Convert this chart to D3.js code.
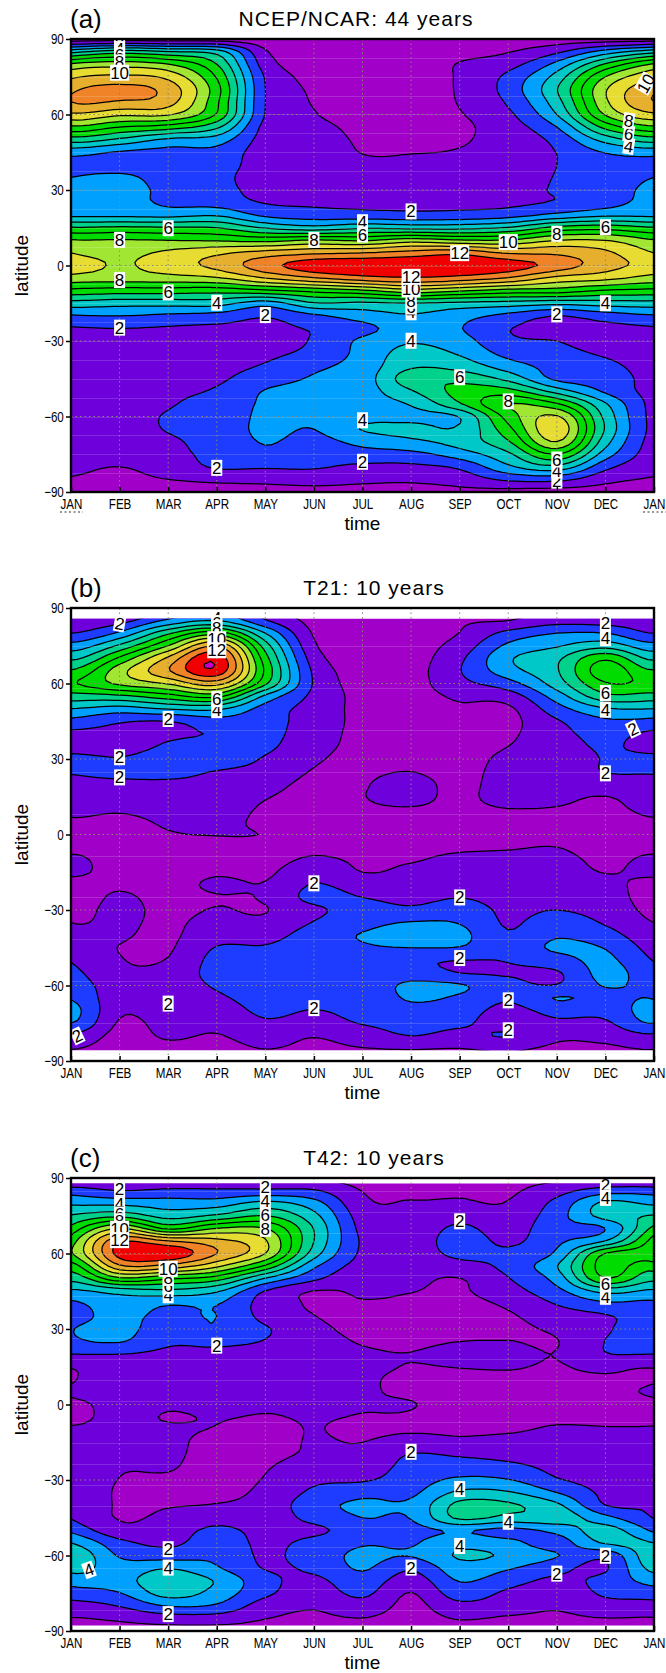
<!DOCTYPE html>
<html><head><meta charset="utf-8">
<script src="https://cdn.jsdelivr.net/npm/d3@7"></script>
<style>
html,body{margin:0;padding:0;background:#fff}
svg{display:block}
text{font-family:"Liberation Sans",sans-serif;fill:#000}
</style></head><body>
<script>
const months=["JAN","FEB","MAR","APR","MAY","JUN","JUL","AUG","SEP","OCT","NOV","DEC","JAN"];
const latTicks=[90,60,30,0,-30,-60,-90];
const lats=d3.range(90,-90.1,-5);
const levels=[1,2,3,4,5,6,7,8,9,10,11,12,13];
const colours=["#a000c8","#6e00dc","#1e3cff","#00a0ff","#00c8c8","#00d28c","#00dc00","#00dc00","#a0e632","#e6dc32","#e6af2d","#f08228","#f00000","#c800c8"];

// one column per month, Jan..Jan; each column runs 90N to 90S in 5-degree steps
const aJan=[.5,4.6,8.1,9.8,10.8,11,9.8,7.8,5.5,3.4,2.6,3,3.3,3.4,3.8,6.1,8.1,9,9.6,8.6,6.7,4.6,2.9,1.9,1.7,1.7,1.7,1.7,1.7,1.7,1.7,1.7,1.6,1.5,1.3,.9,.4];
const aFeb=[.5,5.5,8.5,10.2,11.3,10.9,9.2,7,4.8,2.9,2.6,3.2,3.5,3.5,3.8,6.2,8.1,8.7,8.9,8.5,6.5,4.4,3,2,1.7,1.7,1.7,1.7,1.75,1.75,1.8,1.7,1.6,1.4,1,.8,.5];
const aMar=[.5,5,8,9.7,10.6,10.4,9.1,6.5,3.8,2.7,2.6,2.6,2.7,2.8,3.7,6.1,8,9.2,9.5,8.6,6.5,4.4,2.8,1.9,1.8,1.8,1.8,1.85,1.9,1.95,2.05,2.05,1.85,1.7,1.4,1,.6];
const aApr=[.5,4.5,6,6.9,7.4,7.2,6.9,5.2,3.5,2.7,2.5,2.3,2.4,2.6,3.9,6,7.9,9.8,10.3,8.9,6.4,4.4,2.6,1.8,1.6,1.6,1.7,1.85,2.1,2.3,2.4,2.45,2.4,2.3,2.1,1.2,.6];
const aMay=[.5,1.1,1.5,1.9,2,2,1.95,1.7,1.6,1.5,1.5,1.5,1.6,1.95,2.8,4.9,7.7,10.4,11.6,10,6.8,3.5,2.1,1.8,1.6,1.8,2.1,2.6,3.05,3.15,3.2,3.2,3.05,2.8,2.1,1.3,.6];
const aJun=[.4,.6,.7,.8,.9,.95,1.05,1.2,1.3,1.4,1.5,1.6,1.7,1.85,2.5,4.4,8.1,10.8,12.6,10.9,7.3,4.9,2.8,2.1,2.1,2.3,2.8,3.1,3.25,3.3,3.2,3,2.7,2.4,2.1,1.4,.7];
const aJul=[.4,.5,.55,.6,.65,.7,.75,.85,.92,.98,1.15,1.3,1.5,1.8,2.4,4.85,7.9,11,12.8,11.6,7.8,4.8,3.5,2.7,3.2,3.3,3.4,3.5,3.55,3.6,3.7,4.05,3.3,2.6,1.8,1.2,.7];
const aAug=[.4,.5,.55,.6,.65,.7,.75,.8,.9,.98,1.15,1.3,1.5,1.8,2.3,4.7,8.5,11.4,12.8,11.9,8.6,5,3.9,3.5,3.9,4.4,4.85,5.6,4.9,4.1,3.7,4.3,3.8,2.7,1.8,1.15,.7];
const aSep=[.4,.7,1.05,1.1,1.1,1.05,.95,.85,.92,1.05,1.2,1.35,1.55,1.8,2.35,4.7,8.1,11.7,12.9,11.6,8.1,4.75,3.4,3.05,3.4,3.9,4.6,5.7,6.3,5.9,4.05,4.15,4.4,3.5,2.2,1.4,.8];
const aOct=[.45,.95,1.6,2.25,2.4,2.15,1.8,1.55,1.4,1.35,1.4,1.5,1.6,1.8,2.6,5.1,8.1,10.9,12.5,10.9,7.6,4.6,2.7,2.05,2.2,2.7,3.5,4.7,6.4,8,7.4,6.7,5.9,4.8,3.8,2.2,.7];
const aNov=[.5,1.8,3.3,4.4,4.95,4.6,4,3,2.3,2.02,2,2.05,2.1,2.1,3.3,6.3,9,10.8,11.6,9.7,7.5,4.3,2,1.7,2,2.3,2.6,2.8,4.6,7.1,9.1,9.7,9,7,4.7,2.3,.6];
const aDec=[.5,3.4,6.1,8,8.9,8.8,8.1,6.3,4.4,3.05,2.6,2.45,2.45,2.6,3.8,6.6,9,10.2,10.4,9.3,6.9,4.5,2.5,1.7,1.6,1.9,2.2,2.5,2.85,4.1,4.7,4.9,4.4,3.5,2.3,1.3,.6];

const bJan=[.5,1.4,2,3.4,4.8,6.1,6.9,5.6,4,2.7,1.8,1.7,2.2,2.05,1.8,1.5,1.2,.9,.7,.85,1.1,1.1,.8,.7,.8,1,1.3,1.6,1.95,2.3,2.6,2.95,3.3,3,1.8,1.05,.6];
const bFeb=[.5,1.6,3.2,5.2,7.2,8.6,8.2,5.8,3.6,2.1,1.8,1.7,2.05,2.2,1.8,1.4,1.1,.8,.7,.7,.75,.8,.9,1.1,1.2,1.15,1.1,.98,1.05,1.2,1.4,1.3,1.15,.9,.7,.6,.5];
const bMar=[2,3.2,5.8,8,10.2,10.9,9.1,6.6,4.1,2,1.9,2.1,2.4,2.3,1.8,1.5,1.3,1.1,.95,.8,.7,.7,.7,.75,.8,.85,.85,.9,1.05,1.3,1.5,1.6,1.5,1.3,1.1,.8,.6];
const bApr=[3,4,7.5,10.9,12.7,12.7,10.4,7.3,4.2,2.6,2.05,2.35,2.6,1.95,1.7,1.5,1.35,1.2,1.02,.85,.75,.9,1.15,.95,1.05,1.3,1.6,2.05,2.3,2.35,2.1,1.85,1.5,1.2,.95,.7,.5];
const bMay=[1.5,2.1,4,5.5,6.4,6.8,6.2,3.8,2.6,2.4,2.3,2.2,1.9,1.6,1.3,1.05,.9,.85,.98,.85,.75,.85,1.05,1.1,.96,1.2,1.6,2.1,2.3,2.5,2.5,2.4,2.2,1.85,1.4,1.02,.7];
const bJun=[.5,.7,.9,1.15,1.5,1.8,1.9,1.75,1.6,1.5,1.4,1.25,1.1,.95,.8,.75,.7,.65,.7,.85,1.1,1.6,2.05,2.3,1.8,2.05,2.5,2.65,2.7,2.6,2.4,2.3,1.97,1.6,1.05,.8,.6];
const bJul=[.4,.5,.55,.6,.65,.7,.7,.75,.75,.8,.8,.85,.85,.9,.95,.98,.9,.75,.7,.8,.9,1,1.5,2,2.35,2.7,3.05,2.9,2.7,2.5,2.4,2.35,2.3,2.05,1.5,.97,.7];
const bAug=[.4,.5,.55,.6,.6,.65,.65,.7,.7,.75,.75,.8,.85,1,1.25,1.2,.95,.8,.7,.8,.95,1.15,1.35,1.7,2.2,3.05,3.3,3,2.2,2.5,3.2,3.1,2.7,2.3,2,1.05,.7];
const bSep=[.7,.9,1.02,1.4,1.8,1.95,1.7,1.15,.9,.8,.75,.7,.7,.75,.8,.85,.85,.8,.8,.9,1.15,1.3,1.6,1.98,2.5,2.95,3.25,2.95,2,2,3.1,2.85,2.4,2.15,1.7,1,.7];
const bOct=[.8,1,2.3,3.2,3.85,3.6,2.6,1.5,.85,.75,.85,1,1.2,1.3,1.35,1.3,.98,.8,.75,.95,1.15,1.3,1.5,1.65,1.8,1.9,2.1,2.4,2.05,1.9,2.3,2.1,1.75,1.6,2.05,1.15,.8];
const bNov=[1,1.6,3,3.9,4.8,4.9,4.5,3.5,2.6,1.9,1.7,1.6,1.5,1.5,1.4,1.2,.95,.8,.8,1,1.2,1.3,1.5,1.8,2,2.5,2.9,3.15,2.6,1.9,2.05,3.05,2.3,1.8,1.2,.85,.6];
const bDec=[1,1.5,3,4.6,6.8,7.6,6.9,5.7,3.9,2.8,2.3,2.1,2.05,2.02,1.6,.98,.8,.7,.65,.7,.85,.98,1.2,1.4,1.6,1.9,2.4,2.95,3.2,3.3,3.05,2.7,2.3,1.85,1.3,.85,.6];

const cJan=[.8,2.5,3.8,5.1,6.3,7.5,7.9,6.5,5.3,3.8,2.8,2.6,2.95,2.8,2,1.05,.95,1.1,.85,.9,1.05,1.2,1.3,1.45,1.55,1.7,1.85,1.95,2.8,4,4.6,4.3,3.4,2.5,1.6,.95,.6];
const cFeb=[.8,2,3.7,5.7,9,11.8,12.4,10.8,7.7,4.4,3.6,3.3,3.3,3.05,2,1.7,1.5,1.3,1.2,1.1,1.1,1.1,1.1,1.05,.98,.9,.9,.95,1.3,2.3,2.9,3.4,3.6,2.95,2.05,1.15,.7];
const cMar=[.9,2.2,3.5,4.6,6.8,11,12.8,10.6,7.1,4.7,3.1,2.7,2.5,2.15,1.8,1.5,1.3,1.15,1.05,.98,1.05,1.1,1.1,1.05,.9,.8,.95,1.2,1.5,1.8,2.5,3.95,4.7,4.4,3.05,1.5,.7];
const cApr=[.9,2.2,3.5,5.2,8,10.3,11,9.2,6.4,4.1,3.05,3,2.9,2.2,1.8,1.5,1.3,1.2,1.1,1.02,.98,.85,.8,.75,.75,.8,1.05,1.6,2.2,2.5,2.8,3.1,3.9,3.6,2.85,1.5,.7];
const cMay=[.9,2.2,4.3,6,8,9.1,9,6.8,3.9,1.95,1.6,1.7,2.1,1.95,1.6,1.35,1.2,1.1,1.03,.98,.85,.8,.85,.95,1.05,1.2,1.35,1.5,1.7,1.8,1.85,1.95,2.3,2.2,1.5,1.02,.7];
const cJun=[.9,2.1,3.4,4.3,4.95,5,4.5,3.2,2.2,.97,.9,1.02,1.2,1.3,1.3,1.25,1.2,1.1,1.05,1.03,1.02,1.05,1.1,1.4,1.8,2.2,2.6,2.3,1.8,2.3,2.5,2.2,1.8,1.5,1.1,.85,.7];
const cJul=[.7,.97,1.2,1.5,1.7,1.85,1.8,1.6,1.3,1.1,.95,.85,.85,.95,1.1,1.15,1.1,1.05,1.02,.98,.85,1,1.2,1.5,1.9,2.7,3.2,3,2.5,2.9,3.2,3.1,2.6,2.2,1.6,.98,.7];
const cAug=[.7,.85,1.05,1.2,1.3,1.4,1.4,1.35,1.2,1.02,.9,.85,.8,.85,1.02,.97,.85,.92,1.02,.95,.9,1.4,2.05,2.3,2.5,2.8,3.2,3.05,2.7,2.9,3.05,2.15,1.5,.97,.75,.65,.6];
const cSep=[.7,.9,1.1,1.6,2.2,2.5,2.3,1.6,.98,.9,.8,.8,.85,1,1.3,1.02,.9,.85,.8,.75,.85,1.2,1.9,2.5,3.2,4.2,5.3,5.2,3.1,3.7,4.1,3.6,3.05,2.5,1.7,1.05,.7];
const cOct=[.7,.85,1.05,1.3,1.5,1.8,2.2,2.3,1.95,1.6,1.15,.9,.85,1.02,1.3,1.05,.9,.85,.8,.78,.9,1.3,1.7,2.3,3.05,4.1,5.15,4.7,2.7,3.3,3.85,3.1,2.4,1.8,1.4,.9,.6];
const cNov=[.8,1.6,2.3,2.6,2.7,2.8,3.2,3.95,3.4,2.7,2.05,1.5,1.15,.97,1.02,.95,.9,.85,.8,.85,1.1,1.3,1.5,1.75,2.1,3,4.2,4.6,3.3,2.6,3.05,2.3,1.8,1.4,1.1,.85,.6];
const cDec=[.8,2.5,4.2,4.4,3,4,7.05,7.5,6.9,4.3,2.8,1.9,1.85,2.02,1.95,1.2,.9,.8,.75,.85,1.05,1.2,1.35,1.5,1.65,1.8,2,3.3,4.4,4.1,2.3,1.9,2.3,2.15,1.6,.98,.6];

// contour labels: month position, latitude, text, rotation
const aLabels=[[1,88,"2"],[1,86,"4"],[1,83.6,"6"],[1,80.7,"8"],[1,76.6,"10"],[11.83,72.3,"10",-60],[11.48,47.4,"4",8],[11.48,52.4,"6",8],[11.48,57.5,"8",8],
[2,14.8,"6"],[1,10.2,"8"],[5,10.2,"8"],[6,17.2,"4"],[6,12.3,"6"],[7,21.5,"2"],[8,4.9,"12"],[9,9.3,"10"],[10,12.6,"8"],[11,15.2,"6"],
[1,-5.8,"8"],[2,-10.7,"6"],[3,-14.8,"4"],[4,-19.7,"2"],[1,-24.7,"2"],[7,-18.6,"4"],[7,-16.3,"6"],[7,-14,"8"],[7,-9.5,"10"],[7,-4.5,"12"],[11,-15,"4"],[10,-19.4,"2"],[7,-29.9,"4"],[8,-44.4,"6"],[9,-54,"8"],[6,-61.5,"4"],[6,-78,"2"],[3,-80.4,"2"],[10,-85.5,"2"],[10,-81.5,"4"],[10,-77.1,"6"]];
const bLabels=[[1,83.8,"2",10],[3,86,"4"],[3,84,"6"],[3,82,"8"],[3,77.6,"10"],[3,73.2,"12"],[3,49.4,"4"],[3,53.8,"6"],[2,45.9,"2"],[1,30.7,"2"],[1,22.7,"2"],[11,83.9,"2"],[11,78,"4"],[11,56.2,"6"],[11,49.6,"4"],[11,24.3,"2"],[11.57,41.9,"2",-25],
[5,-19.4,"2"],[8,-25,"2"],[8,-49.1,"2"],[5,-69,"2"],[2,-67.2,"2"],[9,-65.9,"2"],[9,-77.8,"2"],[.13,-80,"2",-25]];
const cLabels=[[1,85.7,"2"],[1,79.5,"4"],[1,75.5,"6"],[1,72.8,"8"],[1,69.8,"10"],[1,65.3,"12"],[2,43.4,"4"],[2,47,"6"],[2,50.3,"8"],[2,53.9,"10"],[4,86.4,"2"],[4,80.8,"4"],[4,75.1,"6"],[4,69.8,"8"],[3,23.4,"2"],[8,72.8,"2"],[11,87.4,"2"],[11,82.1,"4"],[11,42.8,"4"],[11,47.7,"6"],
[7,-18.8,"2"],[8,-33.6,"4"],[9,-46.6,"4"],[8,-56.2,"4"],[2,-57.5,"2"],[2,-64.8,"4"],[2,-83.3,"2"],[.37,-65.7,"4",-20],[7,-64.8,"2"],[10,-67.2,"2"],[11,-60.1,"2"]];

const panels=[
 {tag:"(a)",title:"NCEP/NCAR: 44 years",titleX:356,top:39,cols:[aJan,aFeb,aMar,aApr,aMay,aJun,aJul,aAug,aSep,aOct,aNov,aDec,aJan],labels:aLabels,dataLat:90,streaks:d3.range(82.5,-90,-7.5),stray:true},
 {tag:"(b)",title:"T21: 10 years",titleX:374,top:608,cols:[bJan,bFeb,bMar,bApr,bMay,bJun,bJul,bAug,bSep,bOct,bNov,bDec,bJan],labels:bLabels,dataLat:85.76,streaks:d3.range(75,-85,-16.67),stray:false},
 {tag:"(c)",title:"T42: 10 years",titleX:374,top:1178,cols:[cJan,cFeb,cMar,cApr,cMay,cJun,cJul,cAug,cSep,cOct,cNov,cDec,cJan],labels:cLabels,dataLat:87.86,streaks:d3.range(84.8,-87,-8.33),stray:false}
];

const W=666,H=1673,left=71,right=654,ph=453;
const svg=d3.select("body").append("svg").attr("width",W).attr("height",H);
const fineX=8,fineY=4;

function cr(p0,p1,p2,p3,t){
  return .5*((2*p1)+(-p0+p2)*t+(2*p0-5*p1+4*p2-p3)*t*t+(-p0+3*p1-3*p2+p3)*t*t*t);
}
function sample(cols,fx,fy){
  const nx=cols.length,ny=cols[0].length;
  const ix=Math.min(Math.floor(fx),nx-2),tx=fx-ix;
  const iy=Math.min(Math.floor(fy),ny-2),ty=fy-iy;
  const colAt=i=>{
    const c=cols[(i<0)?i+12:(i>12?i-12:i)];
    const g=j=>c[Math.max(0,Math.min(ny-1,j))];
    return cr(g(iy-1),g(iy),g(iy+1),g(iy+2),ty);
  };
  return cr(colAt(ix-1),colAt(ix),colAt(ix+1),colAt(ix+2),tx);
}

panels.forEach((p,pi)=>{
  const x=d3.scaleLinear().domain([0,12]).range([left,right]);
  const y=d3.scaleLinear().domain([90,-90]).range([p.top,p.top+ph]);
  const g=svg.append("g");
  const clipId="clip"+pi;
  g.append("clipPath").attr("id",clipId).append("rect")
    .attr("x",left).attr("width",right-left)
    .attr("y",y(p.dataLat)).attr("height",y(-p.dataLat)-y(p.dataLat));
  const plot=g.append("g").attr("clip-path",`url(#${clipId})`);
  plot.append("rect").attr("x",left).attr("width",right-left).attr("y",p.top).attr("height",ph).attr("fill",colours[0]);

  const nx=12*fineX+1,ny=36*fineY+1,vals=new Float64Array(nx*ny);
  for(let j=0;j<ny;j++)for(let i=0;i<nx;i++)vals[j*nx+i]=sample(p.cols,i/fineX,j/fineY);
  const gx=d3.scaleLinear().domain([.5,nx-.5]).range([x(0),x(12)]);
  const gy=d3.scaleLinear().domain([.5,ny-.5]).range([y(90),y(-90)]);
  const path=d3.geoPath(d3.geoTransform({point(a,b){this.stream.point(gx(a),gy(b));}}));
  const contours=d3.contours().size([nx,ny]).thresholds(levels)(vals);
  plot.selectAll("path.c").data(contours).join("path").attr("class","c")
    .attr("d",path).attr("fill",(d,i)=>colours[i+1]).attr("stroke","#000").attr("stroke-width",1.25).attr("stroke-linejoin","round");

  // pale streaks left by the shading
  plot.selectAll("line.s").data(p.streaks).join("line").attr("class","s")
    .attr("x1",left).attr("x2",right).attr("y1",d=>Math.round(y(d))+.5).attr("y2",d=>Math.round(y(d))+.5)
    .attr("stroke","#fff").attr("stroke-opacity",.16).attr("stroke-width",1);

  // dotted grid
  g.selectAll("line.gx").data(d3.range(1,12)).join("line").attr("class","gx")
    .attr("x1",d=>x(d)).attr("x2",d=>x(d)).attr("y1",p.top).attr("y2",p.top+ph)
    .attr("stroke","#8a8a70").attr("stroke-width",1).attr("stroke-dasharray","1.5 3");
  g.selectAll("line.gy").data([60,30,0,-30,-60]).join("line").attr("class","gy")
    .attr("x1",left).attr("x2",right).attr("y1",d=>y(d)).attr("y2",d=>y(d))
    .attr("stroke","#8a8a70").attr("stroke-width",1).attr("stroke-dasharray","1.5 3");

  // contour labels
  const lab=g.selectAll("g.l").data(p.labels).join("g").attr("class","l")
    .attr("transform",d=>`translate(${x(d[0])},${y(d[1])}) rotate(${d[3]||0})`);
  lab.append("rect").attr("x",d=>d[2].length>1?-9.5:-5.5).attr("width",d=>d[2].length>1?19:11).attr("y",-8).attr("height",16).attr("fill","#fff");
  lab.append("text").attr("text-anchor","middle").attr("y",6).attr("font-size",17).text(d=>d[2]);

  // axes
  const ax=d3.axisBottom(x).tickValues(d3.range(0,13)).tickFormat(i=>months[i]).tickSize(5).tickPadding(1);
  const ay=d3.axisLeft(y).tickValues(latTicks).tickFormat(d=>d<0?"\u2212"+(-d):d).tickSize(5).tickPadding(2);
  const gxa=g.append("g").attr("transform",`translate(0,${p.top+ph})`).call(ax);
  const gya=g.append("g").attr("transform",`translate(${left},0)`).call(ay);
  [gxa,gya].forEach(s=>{
    s.select(".domain").remove();
    s.selectAll("line").attr("stroke","#000").attr("stroke-width",1.5);
    s.selectAll("text").attr("font-size",14.5).attr("fill","#000").attr("font-family",'"Liberation Sans",sans-serif').attr("transform","scale(.8,1)");
  });
  gxa.selectAll("line").attr("y2",-5);
  gxa.selectAll("text").attr("dy","0.95em").attr("y",3);
  gya.selectAll("text").attr("x",-9);
  g.append("rect").attr("x",left).attr("y",p.top).attr("width",right-left).attr("height",ph).attr("fill","none").attr("stroke","#000").attr("stroke-width",2.4);

  // titles
  g.append("text").attr("x",70).attr("y",p.top-11).attr("font-size",26).text(p.tag);
  g.append("text").attr("x",p.titleX).attr("y",p.top-13).attr("text-anchor","middle").attr("font-size",21).style("letter-spacing","1px").text(p.title);
  g.append("text").attr("x",(left+right)/2).attr("y",p.top+ph+38).attr("text-anchor","middle").attr("font-size",19).text("time");
  g.append("text").attr("transform",`translate(28,${p.top+ph/2}) rotate(-90)`).attr("text-anchor","middle").attr("font-size",19).text("latitude");

  if(p.stray){
    [[x(0)-11,x(0)+12],[x(12)-11,x(12)+12]].forEach(([a,b])=>{
      g.append("line").attr("x1",a).attr("x2",b).attr("y1",p.top+ph+20).attr("y2",p.top+ph+20)
        .attr("stroke","#333").attr("stroke-width",1).attr("stroke-dasharray","2 2.5");
    });
  }
});
</script>
</body></html>
